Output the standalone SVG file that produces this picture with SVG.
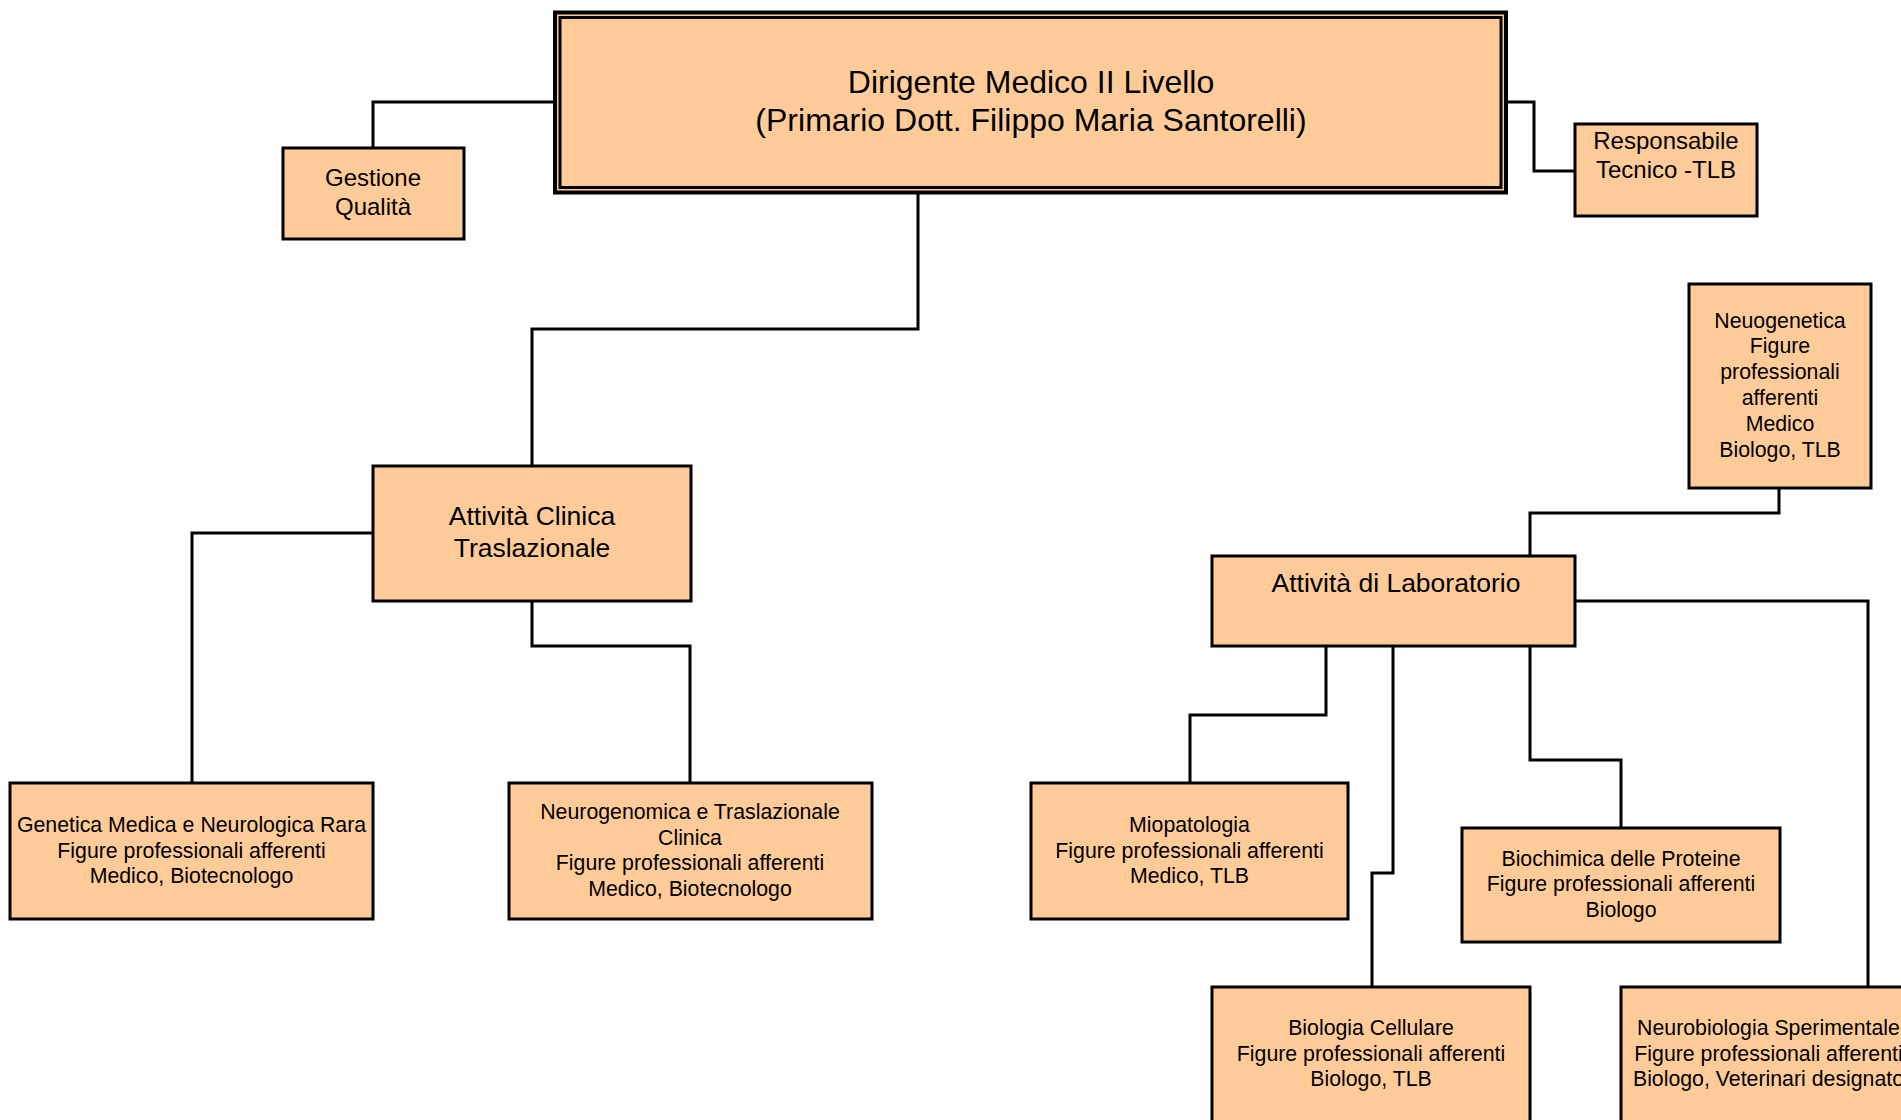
<svg xmlns="http://www.w3.org/2000/svg" width="1901" height="1120" viewBox="0 0 1901 1120">
<style>
.box{fill:#FFCC99;stroke:#000;stroke-width:3}
.inner{fill:none;stroke:#000;stroke-width:3}
.t{font-family:"Liberation Sans",Arial,sans-serif;fill:#000;text-anchor:middle}
.s{font-size:21.3px}
.m{font-size:24px}
.l{font-size:26.5px}
.xl{font-size:32px}
.c{fill:none;stroke:#000;stroke-width:3}
</style>
<rect width="1901" height="1120" fill="#fff"/>
<g id="connectors">
<polyline class="c" points="555,102 373,102 373,148"/>
<polyline class="c" points="1506,102 1534,102 1534,171 1575,171"/>
<polyline class="c" points="918,194 918,329 532,329 532,466"/>
<polyline class="c" points="373,533 192,533 192,783"/>
<polyline class="c" points="532,602 532,646 690,646 690,783"/>
<polyline class="c" points="1779,488 1779,513 1530,513 1530,556"/>
<polyline class="c" points="1575,601 1868,601 1868,987"/>
<polyline class="c" points="1326,646 1326,715 1190,715 1190,783"/>
<polyline class="c" points="1393,646 1393,873 1372,873 1372,987"/>
<polyline class="c" points="1530,646 1530,760 1621,760 1621,828"/>
</g>
<g id="n-dirigente">
<rect x="555" y="12.5" width="951" height="180" fill="#FFCC99" stroke="#000" stroke-width="4"/>
<rect class="inner" x="560" y="17.5" width="941" height="170"/>
<text class="t xl" x="1031" y="93">Dirigente Medico II Livello</text>
<text class="t xl" x="1031" y="131">(Primario Dott. Filippo Maria Santorelli)</text>
</g>
<g id="n-gestione">
<rect class="box" x="283" y="148" width="181" height="91"/>
<text class="t m" x="373" y="186">Gestione</text>
<text class="t m" x="373" y="214.5">Qualità</text>
</g>
<g id="n-responsabile">
<rect class="box" x="1575" y="124" width="182" height="92"/>
<text class="t m" x="1666" y="149">Responsabile</text>
<text class="t m" x="1666" y="178">Tecnico -TLB</text>
</g>
<g id="n-neuogenetica">
<rect class="box" x="1689" y="284" width="182" height="204"/>
<text class="t s" x="1780" y="327.6">Neuogenetica</text>
<text class="t s" x="1780" y="353.4">Figure</text>
<text class="t s" x="1780" y="379.2">professionali</text>
<text class="t s" x="1780" y="405">afferenti</text>
<text class="t s" x="1780" y="430.8">Medico</text>
<text class="t s" x="1780" y="456.6">Biologo, TLB</text>
</g>
<g id="n-clinica">
<rect class="box" x="373" y="466" width="318" height="135"/>
<text class="t l" x="532" y="524.5">Attività Clinica</text>
<text class="t l" x="532" y="556.5">Traslazionale</text>
</g>
<g id="n-laboratorio">
<rect class="box" x="1212" y="556" width="363" height="90"/>
<text class="t l" x="1396" y="592">Attività di Laboratorio</text>
</g>
<g id="n-genetica">
<rect class="box" x="10" y="783" width="363" height="136"/>
<text class="t s" x="191.5" y="832">Genetica Medica e Neurologica Rara</text>
<text class="t s" x="191.5" y="857.5">Figure professionali afferenti</text>
<text class="t s" x="191.5" y="883">Medico, Biotecnologo</text>
</g>
<g id="n-neurogenomica">
<rect class="box" x="509" y="783" width="363" height="136"/>
<text class="t s" x="690" y="819">Neurogenomica e Traslazionale</text>
<text class="t s" x="690" y="844.5">Clinica</text>
<text class="t s" x="690" y="870">Figure professionali afferenti</text>
<text class="t s" x="690" y="895.5">Medico, Biotecnologo</text>
</g>
<g id="n-miopatologia">
<rect class="box" x="1031" y="783" width="317" height="136"/>
<text class="t s" x="1189.5" y="832">Miopatologia</text>
<text class="t s" x="1189.5" y="857.5">Figure professionali afferenti</text>
<text class="t s" x="1189.5" y="883">Medico, TLB</text>
</g>
<g id="n-biochimica">
<rect class="box" x="1462" y="828" width="318" height="114"/>
<text class="t s" x="1621" y="865.6">Biochimica delle Proteine</text>
<text class="t s" x="1621" y="891">Figure professionali afferenti</text>
<text class="t s" x="1621" y="916.6">Biologo</text>
</g>
<g id="n-biologia">
<rect class="box" x="1212" y="987" width="318" height="150"/>
<text class="t s" x="1371" y="1035">Biologia Cellulare</text>
<text class="t s" x="1371" y="1060.5">Figure professionali afferenti</text>
<text class="t s" x="1371" y="1086">Biologo, TLB</text>
</g>
<g id="n-neurobiologia">
<rect class="box" x="1621" y="987" width="295" height="150"/>
<text class="t s" x="1768.5" y="1035">Neurobiologia Sperimentale</text>
<text class="t s" x="1768.5" y="1060.5">Figure professionali afferenti</text>
<text class="t s" x="1768.5" y="1086">Biologo, Veterinari designato</text>
</g>
</svg>
